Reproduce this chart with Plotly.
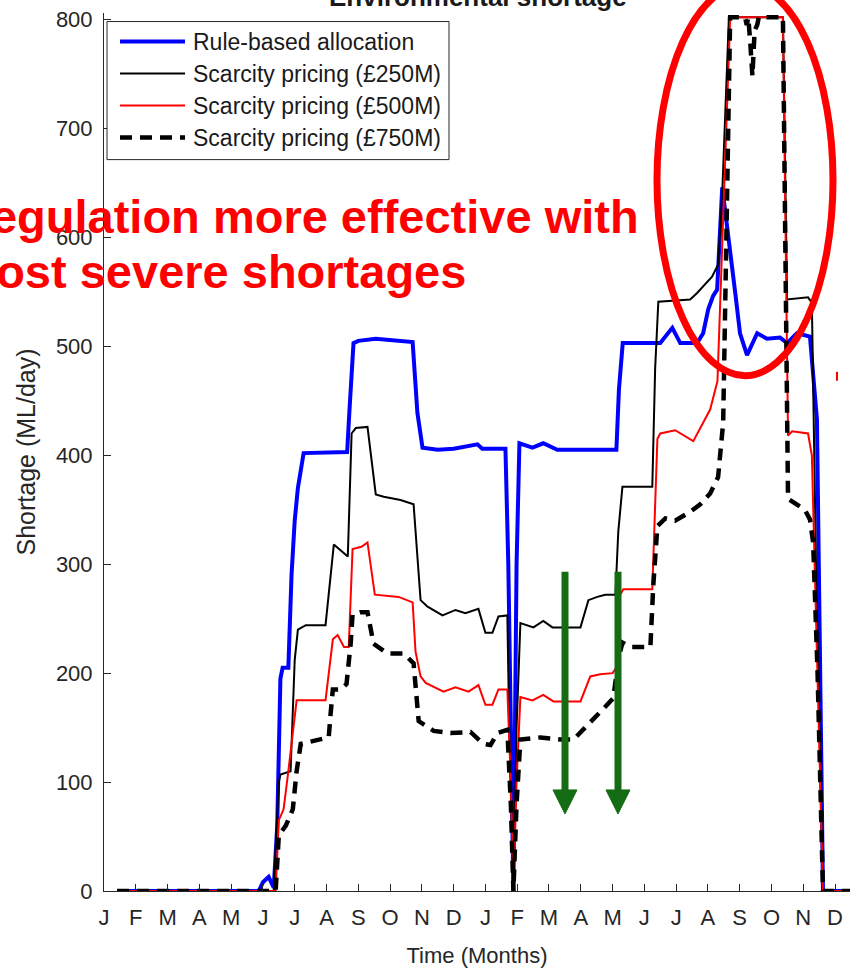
import plotly.graph_objects as go

# ---------------- data ----------------
MONTHS = ["J", "F", "M", "A", "M", "J", "J", "A", "S", "O", "N", "D"]
TICK_LABELS = MONTHS * 2
TICK_POS = list(range(24))

SERIES_NAMES = ["Rule-based allocation", "Scarcity pricing (£250M)",
                "Scarcity pricing (£500M)", "Scarcity pricing (£750M)"]

# time in months since January of year 1; shortage in ML/day
rule_t = [0.41, 4.87, 5.00, 5.18, 5.34, 5.45, 5.55, 5.62, 5.80, 5.90, 6.00, 6.10, 6.28,
          7.65, 7.72, 7.85, 8.00, 8.55, 9.71, 9.77, 9.86, 10.02, 10.50, 11.00, 11.75, 11.90,
          12.63, 12.72, 12.88, 12.98, 13.07, 13.48, 13.82, 14.26, 16.12, 16.20, 16.32, 17.50,
          17.88, 18.13, 18.66, 18.85, 19.01, 19.16, 19.29, 19.45, 19.61, 19.86, 20.01, 20.23,
          20.55, 20.86, 21.27, 21.49, 21.80, 22.21, 22.43, 22.62, 23.47]
rule_v = [0, 0, 8, 13, 3, 60, 195, 205, 205, 290, 340, 370, 402,
          403, 440, 503, 505, 507, 504, 476, 439, 407, 405, 406, 410, 406,
          406, 300, 0, 300, 411, 407, 411, 405, 405, 460, 503, 503,
          517, 503, 503, 512, 534, 546, 552, 646, 610, 549, 512, 492,
          512, 507, 508, 503, 512, 509, 433, 0, 0]

sp250_t = [0.41, 5.34, 5.40, 5.50, 5.55, 5.87, 6.00, 6.10, 6.35, 6.97, 7.23, 7.35, 7.60,
           7.67, 7.79, 7.92, 8.29, 8.55, 8.80, 9.33, 9.74, 9.96, 10.18, 10.65, 11.06, 11.37,
           11.78, 12.00, 12.22, 12.41, 12.69, 12.75, 12.88, 12.98, 13.10, 13.51, 13.82, 14.11,
           14.99, 15.24, 15.52, 15.77, 16.09, 16.18, 16.31, 17.25, 17.34, 17.44, 18.44, 18.66,
           19.13, 19.32, 19.45, 19.66, 21.36, 21.49, 22.15, 22.27, 22.40, 22.62, 23.47]
sp250_v = [0, 0, 40, 100, 107, 110, 212, 240, 244, 244, 318, 315, 309,
           307, 420, 425, 426, 364, 362, 359, 355, 267, 261, 253, 258, 255,
           259, 237, 237, 252, 253, 150, 0, 150, 246, 242, 248, 242,
           242, 267, 270, 272, 272, 330, 371, 371, 480, 541, 543, 549,
           564, 575, 640, 802, 802, 543, 545, 540, 300, 0, 0]

sp500_t = [0.41, 5.40, 5.50, 5.65, 5.80, 5.97, 6.06, 6.97, 7.20, 7.35, 7.55, 7.70, 7.82,
           8.10, 8.29, 8.52, 9.27, 9.71, 9.80, 9.96, 10.12, 10.68, 11.06, 11.47, 11.78, 12.00,
           12.22, 12.41, 12.69, 12.80, 12.88, 12.98, 13.10, 13.48, 13.82, 14.14, 14.99, 15.30,
           15.61, 16.00, 16.12, 16.20, 16.34, 17.25, 17.41, 17.50, 17.97, 18.54, 18.76, 19.07,
           19.30, 19.70, 21.36, 21.52, 21.65, 22.15, 22.27, 22.40, 22.62, 23.47]
sp500_v = [0, 0, 65, 75, 110, 156, 175, 175, 231, 235, 224, 224, 314,
           316, 320, 272, 270, 265, 220, 197, 191, 183, 187, 183, 189, 171,
           171, 185, 185, 100, 0, 100, 178, 175, 180, 174, 174, 197,
           199, 200, 205, 270, 277, 277, 415, 420, 423, 413, 425, 442,
           468, 802, 802, 418, 422, 420, 400, 250, 0, 0]

sp750_t = [0.41, 5.40, 5.50, 5.72, 5.94, 6.06, 6.19, 6.82, 7.07, 7.13, 7.20, 7.45, 7.63,
           7.76, 7.82, 8.07, 8.29, 8.48, 8.92, 9.43, 9.74, 9.90, 10.37, 10.90, 11.53, 11.94,
           12.16, 12.38, 12.69, 12.80, 12.88, 12.98, 13.10, 13.73, 14.36, 14.77, 15.08, 15.39,
           15.80, 16.02, 16.20, 16.31, 16.56, 17.19, 17.28, 17.41, 17.66, 17.97, 18.44, 18.76,
           19.07, 19.32, 19.48, 19.70, 20.17, 20.22, 20.27, 20.33, 20.40, 20.47, 20.55, 20.60,
           21.36, 21.52, 21.68, 22.05, 22.21, 22.31, 22.45, 22.62, 23.47]
sp750_v = [0, 0, 51, 60, 75, 110, 135, 139, 141, 163, 185, 185, 190,
           227, 254, 256, 256, 227, 218, 218, 209, 156, 147, 145, 146, 135,
           134, 145, 148, 80, 0, 80, 139, 141, 139, 139, 148, 157,
           170, 177, 215, 228, 224, 224, 280, 335, 342, 340, 348, 355,
           365, 380, 430, 802, 802, 795, 802, 780, 748, 790, 795, 802,
           802, 360, 357, 350, 341, 320, 200, 0, 0]

# ---------------- geometry ----------------
W, H = 850, 970
ML, MR, MB = 104, 0, 79
Y_RANGE = [0, 806]
X_RANGE = [0, 23.47]
PX_PER_UNIT = 871 / 800.0
PLOT_H = Y_RANGE[1] * PX_PER_UNIT
MT = (H - MB) - PLOT_H
PLOT_W = W - ML - MR

FONT = "Liberation Sans, Arial, Helvetica, sans-serif"
AXIS_GREY = "#262626"


def fx(px):
    return (px - ML) / PLOT_W


def fy(py):
    return (H - MB - py) / PLOT_H


styles = [
    dict(color="#0000ff", width=4),
    dict(color="#000000", width=2),
    dict(color="#ff0000", width=2),
    dict(color="#000000", width=4.5, dash="12px,8px"),
]
series = [(rule_t, rule_v), (sp250_t, sp250_v), (sp500_t, sp500_v), (sp750_t, sp750_v)]

fig = go.Figure()
for (t, v), name, st in zip(series, SERIES_NAMES, styles):
    fig.add_trace(go.Scatter(x=t, y=v, mode="lines", name=name, line=st,
                             showlegend=False, hoverinfo="x+y+name"))

shapes = []
annotations = []

# ---- hand-drawn legend box (MATLAB style) ----
shapes.append(dict(type="rect", xref="paper", yref="paper",
                   x0=fx(107), x1=fx(449), y0=fy(160), y1=fy(22),
                   line=dict(color=AXIS_GREY, width=1), fillcolor="white", layer="above"))
legend_rows = [42, 74, 106, 138]
for row, name, st in zip(legend_rows, SERIES_NAMES, styles):
    ln = dict(color=st["color"], width=st["width"])
    if "dash" in st:
        ln["dash"] = st["dash"]
    shapes.append(dict(type="line", xref="paper", yref="paper",
                       x0=fx(120), x1=fx(185), y0=fy(row), y1=fy(row), line=ln, layer="above"))
    annotations.append(dict(text=name, xref="paper", yref="paper", x=fx(191), y=fy(row),
                            xanchor="left", yanchor="middle", showarrow=False,
                            font=dict(family=FONT, size=23, color="#1a1a1a")))

# ---- red ellipse highlight ----
shapes.append(dict(type="circle", xref="paper", yref="paper",
                   x0=fx(657), x1=fx(833), y0=fy(376), y1=fy(-15),
                   line=dict(color="#ff0000", width=7), layer="above"))
shapes.append(dict(type="line", xref="paper", yref="paper",
                   x0=fx(837), x1=fx(837), y0=fy(381), y1=fy(372),
                   line=dict(color="#ff0000", width=2), layer="above"))

# ---- green arrows ----
GREEN = "#146c14"
for ax in (565, 618):
    shapes.append(dict(type="line", xref="paper", yref="paper",
                       x0=fx(ax), x1=fx(ax), y0=fy(572), y1=fy(795),
                       line=dict(color=GREEN, width=7), layer="above"))
    path = "M %f,%f L %f,%f L %f,%f Z" % (fx(ax - 12), fy(790), fx(ax + 12), fy(790), fx(ax), fy(814))
    shapes.append(dict(type="path", xref="paper", yref="paper", path=path,
                       fillcolor=GREEN, line=dict(color=GREEN, width=1), layer="above"))

# ---- texts ----
annotations.append(dict(text="<b>Environmental shortage</b>", xref="paper", yref="paper",
                        x=fx(478), y=fy(-3), xanchor="center", yanchor="middle", showarrow=False,
                        font=dict(family=FONT, size=26, color="#1a1a1a")))
annotations.append(dict(text="<b>Regulation more effective with</b>", xref="paper", yref="paper",
                        x=fx(-45), y=fy(217), xanchor="left", yanchor="middle", showarrow=False,
                        font=dict(family=FONT, size=47, color="#ff0000")))
annotations.append(dict(text="<b>Most severe shortages</b>", xref="paper", yref="paper",
                        x=fx(-45), y=fy(272), xanchor="left", yanchor="middle", showarrow=False,
                        font=dict(family=FONT, size=47, color="#ff0000")))

fig.update_layout(
    width=W, height=H,
    margin=dict(l=ML, r=MR, t=MT, b=MB, pad=0),
    paper_bgcolor="white", plot_bgcolor="white",
    showlegend=False,
    font=dict(family=FONT, size=22, color=AXIS_GREY),
    shapes=shapes, annotations=annotations,
    xaxis=dict(range=X_RANGE, tickmode="array", tickvals=TICK_POS, ticktext=TICK_LABELS,
               ticks="inside", ticklen=7, tickwidth=1, tickcolor=AXIS_GREY,
               showline=True, linecolor=AXIS_GREY, linewidth=1, mirror=False,
               showgrid=False, zeroline=False, automargin=False, ticklabelstandoff=7,
               tickfont=dict(family=FONT, size=22, color=AXIS_GREY),
               title=dict(text="Time (Months)", standoff=18,
                          font=dict(family=FONT, size=22, color=AXIS_GREY))),
    yaxis=dict(range=Y_RANGE, tickmode="array", tickvals=[0, 100, 200, 300, 400, 500, 600, 700, 800],
               ticks="inside", ticklen=7, tickwidth=1, tickcolor=AXIS_GREY,
               showline=True, linecolor=AXIS_GREY, linewidth=1, mirror=False,
               showgrid=False, zeroline=False, automargin=False, ticklabelstandoff=6,
               tickfont=dict(family=FONT, size=22, color=AXIS_GREY),
               title=dict(text="Shortage (ML/day)", standoff=13,
                          font=dict(family=FONT, size=25, color=AXIS_GREY))),
)

fig.write_html("out.html")
